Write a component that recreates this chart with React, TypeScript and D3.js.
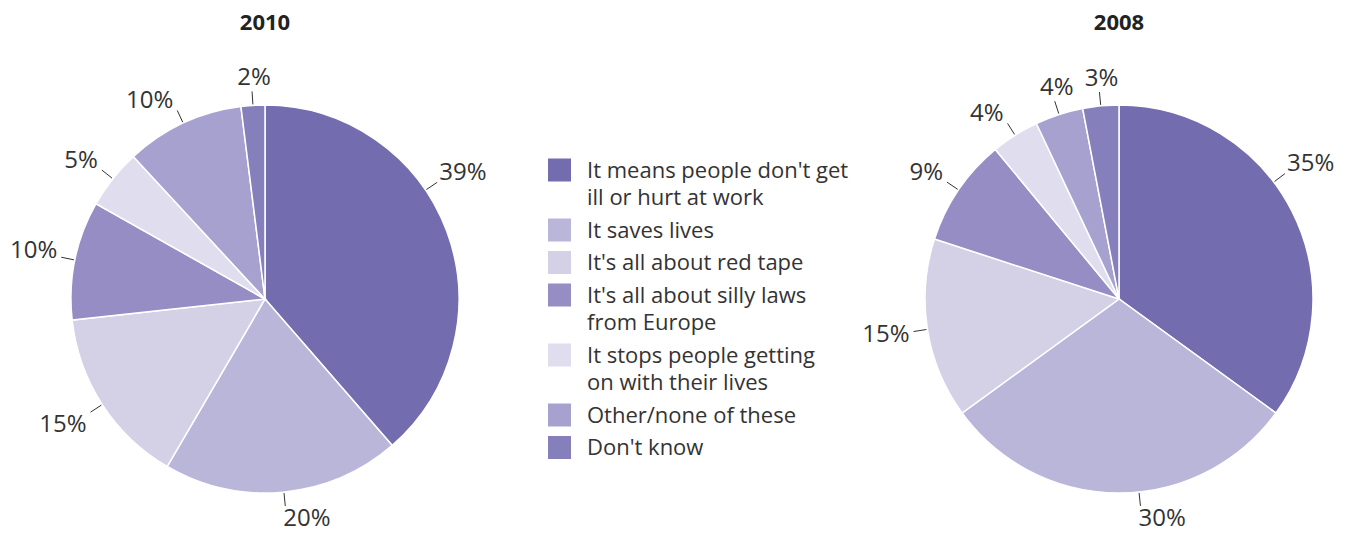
import React from "react";
import * as d3 from "d3";

const categories = [
  "It means people don't get|ill or hurt at work",
  "It saves lives",
  "It's all about red tape",
  "It's all about silly laws|from Europe",
  "It stops people getting|on with their lives",
  "Other/none of these",
  "Don't know",
];
const colors = ["#736db0", "#bab6da", "#d4d1e7", "#958dc3", "#e0ddef", "#a7a1cf", "#8580bc"];
const values2010 = [39, 20, 15, 10, 5, 10, 2];
const values2008 = [35, 30, 15, 9, 4, 4, 3];
const titles = ["2010", "2008"];

const FONT = "'Open Sans', 'Noto Sans', sans-serif";
const W = 1350;
const H = 536;
const R = 194;
const FS = 22;
const LFS = 24;

function Pie({ values, cx, cy, title }: { values: number[]; cx: number; cy: number; title: string }) {
  const pie = d3.pie<number>().sort(null).value((d) => d);
  const arcs = pie(values);
  const arc = d3.arc<d3.PieArcDatum<number>>().innerRadius(0).outerRadius(R);
  return (
    <g transform={`translate(${cx},${cy})`}>
      <text x={0} y={-R - 83} textAnchor="middle" fontFamily={FONT} fontWeight="bold" fontSize={22} fill="#222" dy="0.35em">
        {title}
      </text>
      {arcs.map((a, i) => (
        <path key={i} d={arc(a) || ""} fill={colors[i]} stroke="#fff" strokeWidth={1.5} />
      ))}
      {arcs.map((a, i) => {
        const span = a.endAngle - a.startAngle;
        const frac = 0.5 - 0.08 * Math.max(0, span - 1.2);
        const mid = a.startAngle + span * frac;
        const dx = Math.sin(mid);
        const dy = -Math.cos(mid);
        const x1 = dx * (R + 1), y1 = dy * (R + 1);
        const x2 = dx * (R + 14), y2 = dy * (R + 14);
        let anchor: "start" | "middle" | "end";
        let tx: number;
        if (dy < -0.95) {
          anchor = "middle";
          tx = x2 + 2;
        } else if (dx >= -0.05) {
          anchor = "start";
          tx = x2 + (Math.abs(dx) < 0.2 ? -2 : 2);
        } else {
          anchor = "end";
          tx = x2 - 4;
        }
        const t = Math.max(-1, Math.min(1, dy * 2.5));
        const ty = y2 + t * (dy < -0.95 ? 15 : 11) + (Math.abs(t) < 1 ? -2 : 0);
        return (
          <g key={"l" + i}>
            <line x1={x1} y1={y1} x2={x2} y2={y2} stroke="#333" strokeWidth={1} />
            <text x={tx} y={ty} dy="0.36em" textAnchor={anchor} fontFamily={FONT} fontSize={LFS} fill="#333">
              {values[i]}%
            </text>
          </g>
        );
      })}
    </g>
  );
}

function Legend({ x, y }: { x: number; y: number }) {
  const LH = 27.5;
  const GAP = 32.5;
  let cur = y;
  return (
    <g>
      {categories.map((c, i) => {
        const lines = c.split("|");
        const yy = cur;
        cur += (lines.length - 1) * LH + GAP;
        return (
          <g key={i}>
            <rect x={x} y={yy - 11.5} width={23} height={23} fill={colors[i]} />
            <text x={x + 39} y={yy} fontFamily={FONT} fontSize={FS} fill="#333">
              {lines.map((l, j) => (
                <tspan key={j} x={x + 39} y={yy + j * LH} dy="0.36em">
                  {l}
                </tspan>
              ))}
            </text>
          </g>
        );
      })}
    </g>
  );
}

export default function App() {
  return (
    <svg width={W} height={H} style={{ display: "block", position: "absolute", left: 0, top: 0 }}>
      <rect width={W} height={H} fill="#fff" />
      <Pie values={values2010} cx={265} cy={299} title={titles[0]} />
      <Pie values={values2008} cx={1119} cy={299} title={titles[1]} />
      <Legend x={548} y={170} />
    </svg>
  );
}
